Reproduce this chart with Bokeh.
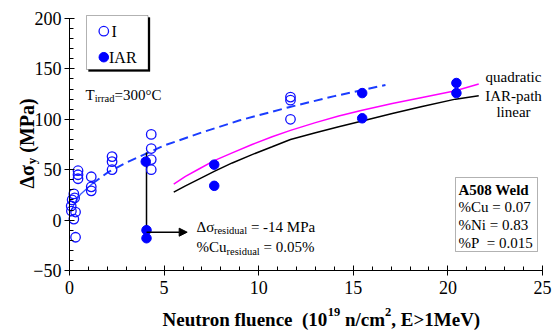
from bokeh.plotting import figure
from bokeh.models import Range1d, SingleIntervalTicker, Label, BoxAnnotation, Arrow, NormalHead
from bokeh.embed import file_html
from bokeh.resources import INLINE

# ---------------- data ----------------
# Irradiated (I) - open circles
i_x = [0.32, 0.23, 0.32, 0.10, 0.09, 0.14, 0.27, 0.23, 0.45, 0.45, 0.45,
       1.15, 1.15, 1.15, 2.25, 2.25, 2.25, 4.32, 4.32, 4.32, 4.32,
       11.68, 11.68, 11.68]
i_y = [-17, 1, 8, 9, 14, 20, 22, 26, 49, 45, 41,
       43, 33, 29, 63, 58, 50, 85, 71, 60, 50,
       122, 119, 100]
# Irradiated-annealed-reirradiated (IAR) - filled circles
iar_x = [4.03, 4.07, 4.07, 7.65, 7.65, 15.47, 15.47, 20.45, 20.45]
iar_y = [58, -10, -18, 55, 34, 126, 101, 136, 126]

# fit through the I data (blue dashed)
fit_x = [0.1, 0.3, 0.6, 1.2, 2.0, 3.0, 4.3, 5.0, 7.0, 9.0, 11.6, 14.0, 16.7]
fit_y = [10, 18, 26, 36, 47, 57, 68, 74, 87, 99, 112, 123, 134]
# quadratic (magenta) and linear (black) IAR-path curves
quad_x = [5.51, 6.13, 6.84, 7.65, 8.60, 9.65, 10.71, 11.68, 13.0, 14.23, 15.47, 17.06, 18.64, 20.40, 21.63]
quad_y = [35.7, 43.3, 50.7, 59.0, 66.7, 75.0, 82.7, 89.0, 96.7, 103.3, 109.0, 115.7, 121.7, 128.3, 135.0]
lin_x = [5.51, 6.13, 6.84, 7.65, 8.60, 9.65, 10.71, 11.68, 13.0, 14.23, 15.47, 17.06, 18.64, 20.40, 21.63]
lin_y = [27.7, 34.0, 40.7, 48.3, 56.7, 65.0, 72.7, 80.0, 86.7, 92.7, 98.3, 105.7, 112.7, 120.0, 123.3]

# residual arrow
arrow_x = [4.07, 4.07, 6.22]
arrow_y = [67, -12, -12]

x_axis_range = (0, 25)
y_axis_range = (-50, 200)
x_tick_step = 5
y_tick_step = 50

# ---------------- layout ----------------
W, H = 553, 330
FL, FR, FT, FB = 69, 542, 18, 270      # where the axes box sits on the page (px)
XS = (FR - FL) / (x_axis_range[1] - x_axis_range[0])   # px per x unit
YS = (FB - FT) / (y_axis_range[1] - y_axis_range[0])   # px per y unit


def dx(px):
    return x_axis_range[0] + (px - FL) / XS


def dy(py):
    return y_axis_range[1] - (py - FT) / YS


SERIF = "Liberation Serif"

# the frame covers the whole canvas; the axes are pinned inside it
p = figure(width=W, height=H,
           x_range=Range1d(dx(0), dx(W)), y_range=Range1d(dy(H), dy(0)),
           output_backend="svg", toolbar_location=None, min_border=0)
p.xgrid.visible = False
p.ygrid.visible = False
p.outline_line_color = None
p.background_fill_color = "white"
p.border_fill_color = "white"

p.xaxis.ticker = SingleIntervalTicker(interval=x_tick_step, num_minor_ticks=5)
p.yaxis.ticker = SingleIntervalTicker(interval=y_tick_step, num_minor_ticks=5)
p.xaxis.fixed_location = y_axis_range[0]
p.yaxis.fixed_location = x_axis_range[0]
p.xaxis.bounds = x_axis_range
p.yaxis.bounds = y_axis_range
for ax in (p.xaxis[0], p.yaxis[0]):
    ax.major_tick_in = 5
    ax.major_tick_out = 5
    ax.minor_tick_in = 4
    ax.minor_tick_out = 0
    ax.axis_line_color = "black"
    ax.major_tick_line_color = "black"
    ax.minor_tick_line_color = "black"
    ax.major_label_text_font = SERIF
    ax.major_label_text_font_size = "18px"
    ax.major_label_text_color = "black"
p.xaxis.major_label_standoff = 5
p.yaxis.major_label_standoff = 3

# ---------------- boxes ----------------
lg_l, lg_r, lg_t, lg_b = dx(86), dx(147.5), dy(15), dy(69)
p.add_layout(BoxAnnotation(left=lg_l + 2 / XS, right=lg_r + 2 / XS, top=lg_t - 2 / YS, bottom=lg_b - 2 / YS,
                           fill_color="black", fill_alpha=1, line_color="black", level="underlay"))
p.add_layout(BoxAnnotation(left=lg_l, right=lg_r, top=lg_t, bottom=lg_b,
                           fill_color="white", fill_alpha=1, line_color="black", line_width=1,
                           level="underlay"))
p.add_layout(BoxAnnotation(left=dx(455), right=dx(537), top=dy(177), bottom=dy(251),
                           fill_color="white", fill_alpha=1, line_color="black", line_width=1,
                           level="underlay"))

# ---------------- curves ----------------
p.line(fit_x[:4], fit_y[:4], line_color="#3a5cff", line_width=1.3)
p.line(fit_x[3:], fit_y[3:], line_color="#1a3cff", line_width=2, line_dash="9 5")
p.line(quad_x, quad_y, line_color="#ff00ff", line_width=1.5)
p.line(lin_x, lin_y, line_color="black", line_width=1.5)

# residual arrow
p.line(arrow_x[:2], arrow_y[:2], line_color="black", line_width=1.5)
p.add_layout(Arrow(end=NormalHead(size=8, fill_color="black", line_color="black"),
                   x_start=arrow_x[1], y_start=arrow_y[1], x_end=arrow_x[2], y_end=arrow_y[2],
                   line_color="black", line_width=1.5))

# ---------------- points ----------------
p.scatter(i_x, i_y, marker="circle", size=9.5, fill_alpha=0, line_color="#1010ff", line_width=1.3)
p.scatter(iar_x, iar_y, marker="circle", size=9.5, fill_color="#0000ff", line_color="#0000ff")

# legend markers
p.scatter([dx(103.3)], [dy(30.7)], marker="circle", size=9.5, fill_alpha=0, line_color="#1010ff", line_width=1.3)
p.scatter([dx(103.3)], [dy(56.7)], marker="circle", size=9.5, fill_color="#0000ff", line_color="#0000ff")


def lab(px, py, text, size=15, bold=False, align="left", baseline="alphabetic", angle=0):
    p.add_layout(Label(x=dx(px), y=dy(py), text=text, text_font=SERIF,
                       text_font_size=f"{size}px", text_font_style="bold" if bold else "normal",
                       text_align=align, text_baseline=baseline, angle=angle, text_color="black"))


NB = "\u00a0"

# legend texts
lab(111, 31, "I", 16, baseline="middle")
lab(108.5, 57, "IAR", 16, baseline="middle")

# T_irrad
lab(85, 94, "T", 15)
lab(94.2, 98, "irrad", 10.5)
lab(114, 94, "=300°C", 15)

# residual annotation
lab(196, 226, "Δσ", 15)
lab(213.4, 230, "residual", 10.5)
lab(250.4, 226, "= -14 MPa", 15)
lab(196, 246.7, "%Cu", 15)
lab(226, 250.7, "residual", 10.5)
lab(263, 246.7, "= 0.05%", 15)

# curve labels
lab(513, 76, "quadratic", 15, align="center")
lab(513, 95, "IAR-path", 15, align="center")
lab(513, 111.7, "linear", 15, align="center")

# weld box
lab(458, 189.3, "A508 Weld", 15, bold=True)
lab(458, 206.7, "%Cu = 0.07", 15)
lab(458, 224, "%Ni = 0.83", 15)
lab(458, 242.7, "%P" + NB + NB + "= 0.015", 15)

# x-axis label (with superscripts)
XB = 319
xl = 162
lab(xl, XB, "Neutron fluence" + NB + NB + "(10", 19, bold=True)
xl += 8693 * 19 / 1000
lab(xl, XB - 8, "19", 12.5, bold=True)
xl += 1000 * 12.5 / 1000
lab(xl, XB, NB + "n/cm", 19, bold=True)
xl += 2361 * 19 / 1000
lab(xl, XB - 8, "2", 12.5, bold=True)
xl += 500 * 12.5 / 1000
lab(xl, XB, ", E>1MeV)", 19, bold=True)

# y-axis label (rotated, with subscript)
ang = 1.5707963
yl = 188
lab(26, yl, "Δσ", 20, bold=True, angle=ang)
yl -= 1212 * 20 / 1000
lab(30.5, yl, "y", 13, bold=True, angle=ang)
yl -= 500 * 13 / 1000
lab(26, yl, NB + "(MPa)", 20, bold=True, angle=ang)

open("out.html", "w").write(file_html(p, INLINE))
